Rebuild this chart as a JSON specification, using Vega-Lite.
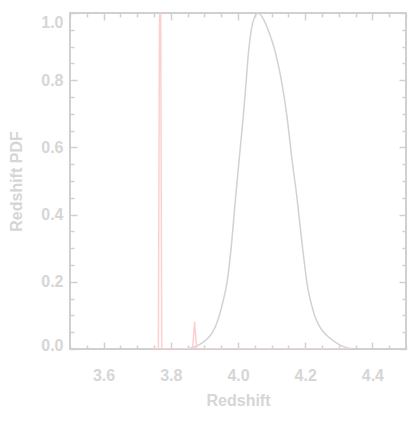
{
  "$schema": "https://vega.github.io/schema/vega-lite/v6.json",
  "width": 336,
  "height": 336,
  "autosize": {"type": "none"},
  "padding": {"left": 70, "top": 13, "right": 3, "bottom": 85},
  "background": "white",
  "config": {
    "view": {"stroke": "#d0d0d0", "strokeWidth": 2},
    "axis": {
      "domain": false,
      "grid": false,
      "tickColor": "#d0d0d0",
      "tickWidth": 1.5,
      "labelColor": "#d6d6d6",
      "labelFont": "Liberation Sans",
      "labelFontWeight": "bold",
      "labelFontSize": 16,
      "titleColor": "#d6d6d6",
      "titleFont": "Liberation Sans",
      "titleFontWeight": "bold",
      "titleFontSize": 16
    }
  },
  "datasets": {
    "gray": [
      {"z": 3.85, "p": 0.0},
      {"z": 3.863, "p": 0.004},
      {"z": 3.88, "p": 0.01},
      {"z": 3.893, "p": 0.018},
      {"z": 3.91, "p": 0.032},
      {"z": 3.923, "p": 0.048},
      {"z": 3.935, "p": 0.072},
      {"z": 3.943, "p": 0.095},
      {"z": 3.955, "p": 0.14},
      {"z": 3.967, "p": 0.196},
      {"z": 3.979, "p": 0.295},
      {"z": 3.991, "p": 0.43},
      {"z": 4.003, "p": 0.56},
      {"z": 4.015, "p": 0.685},
      {"z": 4.023, "p": 0.78},
      {"z": 4.031, "p": 0.88},
      {"z": 4.045, "p": 0.975},
      {"z": 4.06, "p": 1.0},
      {"z": 4.077, "p": 0.979},
      {"z": 4.095, "p": 0.935},
      {"z": 4.112, "p": 0.88},
      {"z": 4.129, "p": 0.8},
      {"z": 4.146, "p": 0.69},
      {"z": 4.16, "p": 0.57},
      {"z": 4.176, "p": 0.446},
      {"z": 4.19, "p": 0.32},
      {"z": 4.208, "p": 0.18},
      {"z": 4.218, "p": 0.135},
      {"z": 4.228, "p": 0.1},
      {"z": 4.24, "p": 0.072},
      {"z": 4.255, "p": 0.05},
      {"z": 4.274, "p": 0.032},
      {"z": 4.3, "p": 0.014},
      {"z": 4.323, "p": 0.004},
      {"z": 4.345, "p": 0.0}
    ],
    "pink": [
      {"z": 3.745, "p": 0.0},
      {"z": 3.763, "p": 0.0},
      {"z": 3.766, "p": 0.89},
      {"z": 3.769, "p": 1.3},
      {"z": 3.773, "p": 0.0},
      {"z": 3.865, "p": 0.0},
      {"z": 3.871, "p": 0.081},
      {"z": 3.877, "p": 0.0},
      {"z": 4.335, "p": 0.0}
    ]
  },
  "layer": [
    {
      "data": {"name": "gray"},
      "mark": {"type": "line", "color": "#d2d2d2", "strokeWidth": 1.5, "interpolate": "monotone"},
      "encoding": {
        "x": {
          "field": "z", "type": "quantitative",
          "scale": {"domain": [3.5, 4.5], "nice": false, "zero": false},
          "axis": {
            "orient": "bottom",
            "title": "Redshift",
            "titleX": 168, "titleY": 51, "titleBaseline": "middle", "titleAlign": "center",
            "values": [3.5,3.55,3.6,3.65,3.7,3.75,3.8,3.85,3.9,3.95,4.0,4.05,4.1,4.15,4.2,4.25,4.3,4.35,4.4,4.45,4.5],
            "labelExpr": "(abs(datum.value*5 - round(datum.value*5)) < 0.001 && datum.value > 3.51 && datum.value < 4.49) ? format(datum.value, '.1f') : ''",
            "tickSize": {"condition": {"test": "abs(datum.value*5 - round(datum.value*5)) < 0.001", "value": -7}, "value": -4},
            "labelPadding": 25
          }
        },
        "y": {
          "field": "p", "type": "quantitative",
          "scale": {"domain": [0, 1.0], "nice": false},
          "axis": {
            "orient": "left",
            "title": "Redshift PDF",
            "titleX": -54, "titleY": 168, "titleBaseline": "middle", "titleAlign": "center", "titleAngle": -90,
            "values": [0,0.05,0.1,0.15,0.2,0.25,0.3,0.35,0.4,0.45,0.5,0.55,0.6,0.65,0.7,0.75,0.8,0.85,0.9,0.95,1.0],
            "labelExpr": "abs(datum.value*5 - round(datum.value*5)) < 0.001 ? format(datum.value, '.1f') : ''",
            "tickSize": {"condition": {"test": "abs(datum.value*5 - round(datum.value*5)) < 0.001", "value": -7}, "value": -4},
            "labelPadding": 14,
            "labelFlush": false,
            "labelBaseline": "middle",
            "labelOffset": {"condition": [{"test": "datum.value > 0.99", "value": 9}, {"test": "datum.value < 0.01", "value": -4}], "value": 0}
          }
        }
      }
    },
    {
      "data": {"name": "pink"},
      "mark": {"type": "line", "color": "#ffcfcf", "strokeWidth": 1.5, "clip": true},
      "encoding": {
        "x": {
          "field": "z", "type": "quantitative",
          "scale": {"domain": [3.5, 4.5], "nice": false, "zero": false},
          "axis": {
            "orient": "top",
            "title": null,
            "labels": false,
            "values": [3.5,3.55,3.6,3.65,3.7,3.75,3.8,3.85,3.9,3.95,4.0,4.05,4.1,4.15,4.2,4.25,4.3,4.35,4.4,4.45,4.5],
            "tickSize": {"condition": {"test": "abs(datum.value*5 - round(datum.value*5)) < 0.001", "value": -7}, "value": -4}
          }
        },
        "y": {
          "field": "p", "type": "quantitative",
          "scale": {"domain": [0, 1.0], "nice": false},
          "axis": {
            "orient": "right",
            "title": null,
            "labels": false,
            "values": [0,0.05,0.1,0.15,0.2,0.25,0.3,0.35,0.4,0.45,0.5,0.55,0.6,0.65,0.7,0.75,0.8,0.85,0.9,0.95,1.0],
            "tickSize": {"condition": {"test": "abs(datum.value*5 - round(datum.value*5)) < 0.001", "value": -7}, "value": -4}
          }
        }
      }
    }
  ],
  "resolve": {"axis": {"x": "independent", "y": "independent"}}
}
